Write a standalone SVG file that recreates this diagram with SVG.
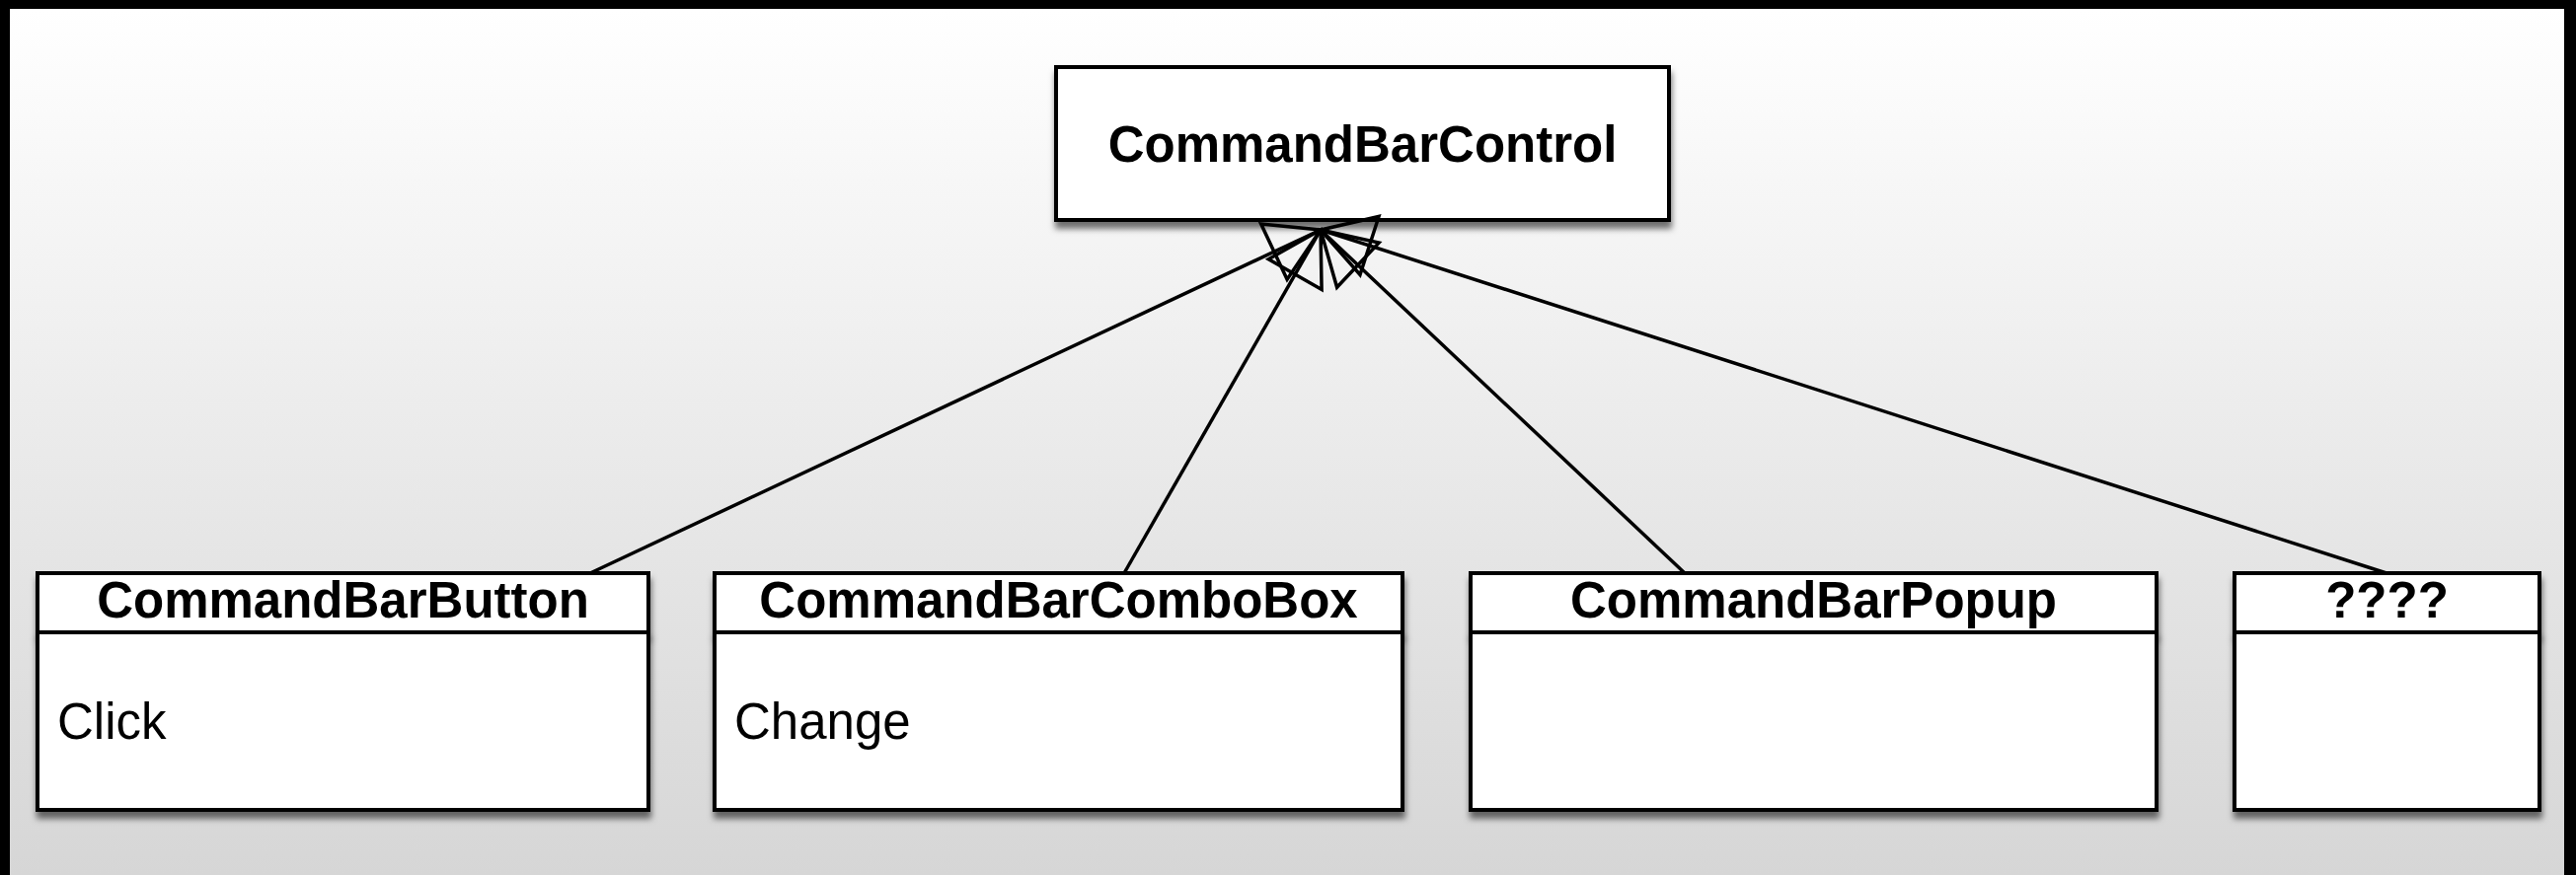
<svg xmlns="http://www.w3.org/2000/svg" width="2610" height="887" viewBox="0 0 2610 887">
  <defs>
    <linearGradient id="bg" x1="0" y1="0" x2="0" y2="1">
      <stop offset="0" stop-color="#ffffff"/>
      <stop offset="1" stop-color="#d6d6d6"/>
    </linearGradient>
    <filter id="shadow" x="-5%" y="-20%" width="110%" height="150%">
      <feDropShadow dx="1" dy="7" stdDeviation="3" flood-color="#000" flood-opacity="0.55"/>
    </filter>
    <style>
      .box { fill: #ffffff; stroke: #000; stroke-width: 4; filter: url(#shadow); }
      .title { font-family: "Liberation Sans", Arial, sans-serif; font-weight: bold; font-size: 51px; text-anchor: middle; fill: #000; }
      .attr { font-family: "Liberation Sans", Arial, sans-serif; font-size: 51px; fill: #000; }
      .edge { stroke: #000; stroke-width: 3.5; fill: none; }
      .head { stroke: #000; stroke-width: 3.5; fill: none; stroke-linejoin: miter; }
    </style>
  </defs>

  <rect x="0" y="0" width="2610" height="887" fill="#000"/>
  <rect x="10" y="9" width="2588" height="878" fill="url(#bg)"/>

  <g id="CommandBarControl">
    <rect class="box" x="1070" y="68" width="621" height="155"/>
    <text class="title" x="1380.5" y="164">CommandBarControl</text>
  </g>

  <g id="CommandBarButton">
    <rect class="box" x="38" y="581" width="619" height="60"/>
    <rect class="box" x="38" y="641" width="619" height="180"/>
    <text class="title" x="347.5" y="626">CommandBarButton</text>
    <text class="attr" x="58" y="749">Click</text>
  </g>

  <g id="CommandBarComboBox">
    <rect class="box" x="724" y="581" width="697" height="60"/>
    <rect class="box" x="724" y="641" width="697" height="180"/>
    <text class="title" x="1072.5" y="626">CommandBarComboBox</text>
    <text class="attr" x="744" y="749">Change</text>
  </g>

  <g id="CommandBarPopup">
    <rect class="box" x="1490" y="581" width="695" height="60"/>
    <rect class="box" x="1490" y="641" width="695" height="180"/>
    <text class="title" x="1837.5" y="626">CommandBarPopup</text>
  </g>

  <g id="Unknown">
    <rect class="box" x="2264" y="581" width="309" height="60"/>
    <rect class="box" x="2264" y="641" width="309" height="180"/>
    <text class="title" x="2418.5" y="626">????</text>
  </g>

  <g id="connectors">
    <line class="edge" x1="598" y1="581" x2="1338" y2="233"/>
    <line class="edge" x1="1139" y1="581" x2="1338" y2="233"/>
    <line class="edge" x1="1707" y1="581" x2="1338" y2="233"/>
    <line class="edge" x1="2418" y1="581" x2="1338" y2="233"/>
    <polygon class="head" points="1338,233 1304.1,283.2 1277.7,227.1"/>
    <polygon class="head" points="1338,233 1339.1,293.5 1285.3,262.7"/>
    <polygon class="head" points="1338,233 1397.1,246.1 1354.6,291.2"/>
    <polygon class="head" points="1338,233 1397.0,219.5 1378.0,278.5"/>
  </g>
</svg>
